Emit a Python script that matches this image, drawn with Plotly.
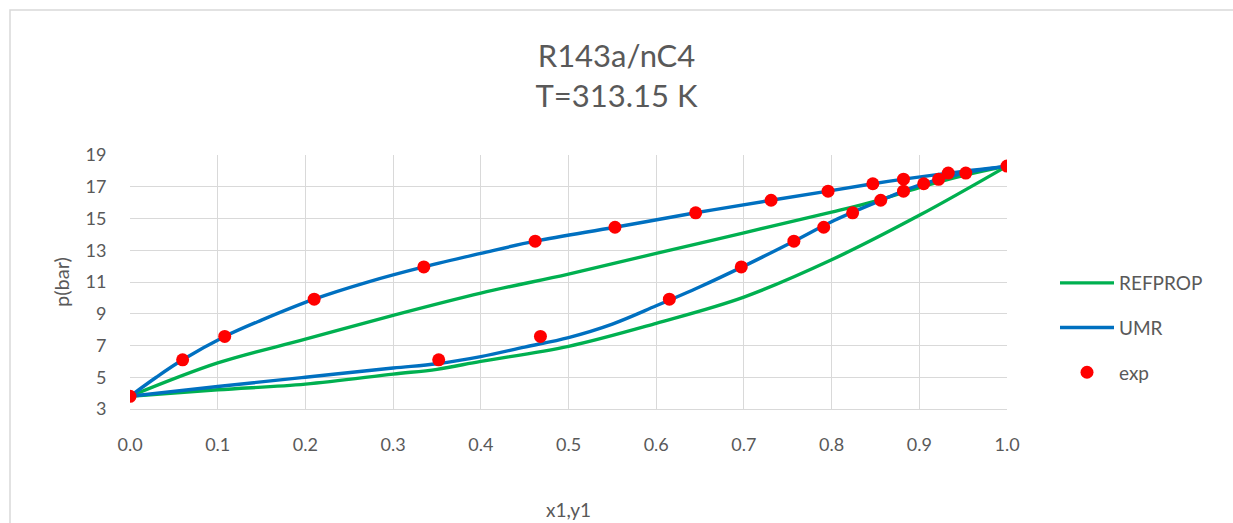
import plotly.graph_objects as go

# UMR model: bubble (x1) and dew (y1) branches
umr_bub_x = [0.0, 0.03, 0.06, 0.108, 0.15, 0.21, 0.27, 0.335, 0.40, 0.462, 0.553, 0.645, 0.731, 0.796, 0.847, 0.882, 0.933, 1.0]
umr_bub_p = [3.8, 5.0, 6.1, 7.57, 8.6, 9.92, 10.98, 11.95, 12.8, 13.57, 14.45, 15.36, 16.15, 16.72, 17.19, 17.48, 17.86, 18.3]
umr_dew_x = [0.0, 0.1, 0.2, 0.3, 0.35, 0.4, 0.45, 0.5, 0.55, 0.6, 0.65, 0.7, 0.757, 0.8, 0.85, 0.9, 0.95, 1.0]
umr_dew_p = [3.8, 4.42, 5.0, 5.58, 5.85, 6.3, 6.9, 7.5, 8.35, 9.5, 10.7, 12.0, 13.57, 14.8, 16.0, 17.1, 17.85, 18.3]

# REFPROP: bubble and dew branches
ref_bub_x = [0.0, 0.1, 0.2, 0.3, 0.4, 0.5, 0.6, 0.7, 0.8, 0.85, 0.9, 0.95, 1.0]
ref_bub_p = [3.8, 5.9, 7.4, 8.9, 10.3, 11.5, 12.8, 14.1, 15.4, 16.1, 16.95, 17.7, 18.3]
ref_dew_x = [0.0, 0.1, 0.2, 0.3, 0.35, 0.4, 0.5, 0.6, 0.7, 0.8, 0.9, 1.0]
ref_dew_p = [3.8, 4.21, 4.57, 5.2, 5.5, 6.0, 6.95, 8.4, 10.05, 12.4, 15.2, 18.3]

# Experimental VLE data
exp_x = [0.0, 0.060, 0.108, 0.210, 0.335, 0.462, 0.553, 0.645, 0.731, 0.796, 0.847, 0.882, 0.933, 1.0,
         0.352, 0.468, 0.615, 0.697, 0.757, 0.791, 0.824, 0.856, 0.882, 0.905, 0.922, 0.953]
exp_p = [3.8, 6.1, 7.57, 9.92, 11.95, 13.57, 14.45, 15.36, 16.15, 16.72, 17.19, 17.48, 17.86, 18.3,
         6.1, 7.57, 9.92, 11.95, 13.57, 14.45, 15.36, 16.15, 16.72, 17.19, 17.47, 17.86]

x_ticks = [i / 10 for i in range(11)]
y_ticks = list(range(3, 20, 2))

GREEN = "#00B050"
BLUE = "#0070C0"
RED = "#FF0000"
TXT = "#595959"
GRID = "#D9D9D9"
FONT = "Lato, Open Sans, sans-serif"
LW = 3.4

fig = go.Figure()
line_kw = dict(mode="lines", line_shape="spline")

fig.add_trace(go.Scatter(x=ref_bub_x, y=ref_bub_p, name="REFPROP", legendgroup="ref",
                         line=dict(color=GREEN, width=LW), **line_kw))
fig.add_trace(go.Scatter(x=ref_dew_x, y=ref_dew_p, name="REFPROP", legendgroup="ref", showlegend=False,
                         line=dict(color=GREEN, width=LW), **line_kw))
fig.add_trace(go.Scatter(x=umr_bub_x, y=umr_bub_p, name="UMR", legendgroup="umr",
                         line=dict(color=BLUE, width=LW), **line_kw))
fig.add_trace(go.Scatter(x=umr_dew_x, y=umr_dew_p, name="UMR", legendgroup="umr", showlegend=False,
                         line=dict(color=BLUE, width=LW), **line_kw))
fig.add_trace(go.Scatter(x=exp_x, y=exp_p, name="exp", legendgroup="exp", mode="markers",
                         marker=dict(color=RED, size=13)))

fig.update_layout(
    width=1233, height=523,
    paper_bgcolor="white", plot_bgcolor="white",
    margin=dict(l=130, r=226, t=155, b=114),
    font=dict(family=FONT, color=TXT, size=18),
    title=dict(text="R143a/nC4<br>T=313.15 K", x=0.5, xanchor="center",
               y=1 - 67 / 523, yanchor="middle", font=dict(size=31, color=TXT, family=FONT)),
    showlegend=True,
    legend=dict(x=(1055 - 130) / 877, y=(409 - 264) / 254, xanchor="left", yanchor="top",
                font=dict(size=19, color=TXT, family=FONT), tracegroupgap=17,
                traceorder="grouped", bgcolor="rgba(0,0,0,0)", itemwidth=54),
    xaxis=dict(range=[0, 1], tickvals=x_ticks, tickformat=".1f", showgrid=True, gridcolor=GRID,
               gridwidth=1, zeroline=False, showline=True, linecolor=GRID, mirror=False,
               ticks="outside", ticklen=19, tickcolor="rgba(0,0,0,0)", automargin=False,
               tickfont=dict(size=18, color=TXT),
               title=dict(text="x1,y1", font=dict(size=19, color=TXT), standoff=50)),
    yaxis=dict(range=[3, 19], tickvals=y_ticks, showgrid=True, gridcolor=GRID, gridwidth=1,
               zeroline=False, showline=False, automargin=False,
               ticks="outside", ticklen=19, tickcolor="rgba(0,0,0,0)",
               tickfont=dict(size=18, color=TXT),
               title=dict(text="p(bar)", font=dict(size=20, color=TXT), standoff=10)),
)

# chart-area frame
fig.add_shape(type="rect", xref="paper", yref="paper",
              x0=-120 / 877, x1=(1240 - 130) / 877, y0=-(530 - 409) / 254, y1=(409 - 10) / 254,
              line=dict(color=GRID, width=1.5), fillcolor="rgba(0,0,0,0)", layer="below")

fig.write_html("out.html")
